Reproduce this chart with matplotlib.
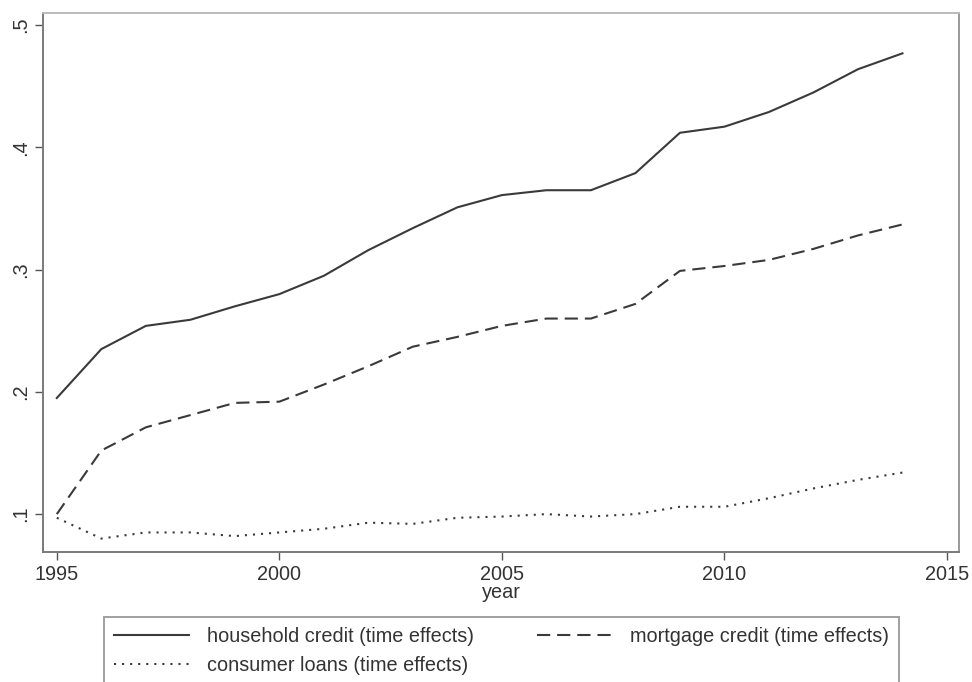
import matplotlib
matplotlib.use("Agg")
import matplotlib.pyplot as plt

plt.rcParams['font.family'] = ['Liberation Sans', 'DejaVu Sans']
plt.rcParams['lines.scale_dashes'] = False

years = list(range(1995, 2015))
household = [0.195, 0.235, 0.254, 0.259, 0.270, 0.280, 0.295, 0.316, 0.334, 0.351,
             0.361, 0.365, 0.365, 0.379, 0.412, 0.417, 0.429, 0.445, 0.464, 0.477]
mortgage = [0.100, 0.152, 0.171, 0.181, 0.191, 0.192, 0.206, 0.221, 0.237, 0.245,
            0.254, 0.260, 0.260, 0.272, 0.299, 0.303, 0.308, 0.317, 0.328, 0.337]
consumer = [0.097, 0.080, 0.085, 0.085, 0.082, 0.085, 0.088, 0.093, 0.092, 0.097,
            0.098, 0.100, 0.098, 0.100, 0.106, 0.106, 0.113, 0.121, 0.128, 0.134]
labels = ["household credit (time effects)", "mortgage credit (time effects)",
          "consumer loans (time effects)"]
xticks = [1995, 2000, 2005, 2010, 2015]
yticks = [0.1, 0.2, 0.3, 0.4, 0.5]
yticklabels = [".1", ".2", ".3", ".4", ".5"]

fig = plt.figure(figsize=(9.72, 6.82), dpi=100)
ax = fig.add_axes([43/972, 1-552/682, (959-43)/972, (552-13)/682])

lc = '#3a3a3a'
l1, = ax.plot(years, household, color=lc, lw=1.5, solid_joinstyle='round')
l2, = ax.plot(years, mortgage, color=lc, lw=1.5, dashes=[9.5, 5])
l3, = ax.plot(years, consumer, color=lc, lw=1.5, dashes=[1.5, 4.3])

ax.set_xlim(1994.69, 2015.27)
ax.set_ylim(0.069, 0.51)
ax.set_xticks(xticks)
ax.set_yticks(yticks)
ax.set_yticklabels(yticklabels, rotation=90, va='center')
ax.tick_params(colors='#555555', labelcolor='#333333', labelsize=14.3, length=6, width=1)
ax.set_xlabel("year", fontsize=14.3, color='#333333', labelpad=-1)
for s in ax.spines.values():
    s.set_color('#7a7a7a')
    s.set_linewidth(1.4)
ax.spines['top'].set_color('#bbbbbb')
ax.spines['right'].set_color('#999999')

x0, x1 = 104/972, 899/972
ytop = 1 - 617/682
leg = fig.legend([l1, l3, l2], [labels[0], labels[2], labels[1]], ncol=2, loc='upper left',
                 bbox_to_anchor=(x0, ytop - 0.2, x1 - x0, 0.2), mode='expand',
                 fontsize=14.3, frameon=True, fancybox=False, handlelength=3.8,
                 handletextpad=0.9, borderaxespad=0, borderpad=0.5,
                 labelspacing=0.5, columnspacing=2.0, labelcolor='#333333')
leg.get_frame().set_edgecolor('#888888')
leg.get_frame().set_linewidth(1.4)

fig.savefig("out.png", dpi=100)
